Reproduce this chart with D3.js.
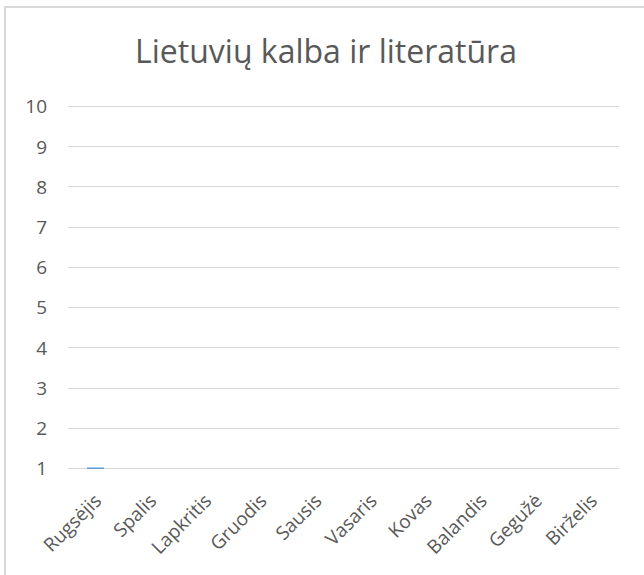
<!DOCTYPE html>
<html>
<head>
<meta charset="utf-8">
<script src="https://cdn.jsdelivr.net/npm/d3@7"></script>
<style>
  body { margin: 0; background: #fff; }
</style>
</head>
<body>
<div id="chart"></div>
<script>
// data
var months = ['Rugsėjis','Spalis','Lapkritis','Gruodis','Sausis','Vasaris','Kovas','Balandis','Gegužė','Birželis'];
var grades = [1, null, null, null, null, null, null, null, null, null];
var yTicks = [1,2,3,4,5,6,7,8,9,10];

var width = 644, height = 575;
var plotLeft = 68, plotRight = 619, plotTop = 106, plotBottom = 468;
var font = '"Open Sans", "Noto Sans", sans-serif';

var svg = d3.select('#chart').append('svg')
    .attr('width', width)
    .attr('height', height);

// outer chart border (right and bottom edges fall outside the picture)
svg.append('rect')
    .attr('x', 5).attr('y', 7)
    .attr('width', 700).attr('height', 700)
    .attr('fill', '#fff')
    .attr('stroke', '#d9d9d9')
    .attr('stroke-width', 2);

svg.append('text')
    .attr('x', 326).attr('y', 63)
    .attr('text-anchor', 'middle')
    .attr('font-family', font)
    .attr('font-size', 32)
    .attr('fill', '#595959')
    .text('Lietuvių kalba ir literatūra');

var x = d3.scaleBand().domain(months).range([plotLeft, plotRight]);
var y = d3.scaleLinear().domain([1, 10]).range([plotBottom, plotTop]);

// gridlines
svg.append('g')
    .selectAll('line')
    .data(yTicks)
    .enter().append('line')
    .attr('x1', plotLeft).attr('x2', plotRight)
    .attr('y1', function(d) { return Math.round(y(d)) + 0.5; })
    .attr('y2', function(d) { return Math.round(y(d)) + 0.5; })
    .attr('stroke', '#d9d9d9');

// y axis labels
var yAxis = svg.append('g')
    .attr('transform', 'translate(47,0)')
    .call(d3.axisLeft(y).tickValues(yTicks).tickSize(0).tickPadding(0));
yAxis.select('.domain').remove();
yAxis.attr('font-family', font).attr('font-size', 19);
yAxis.selectAll('text').attr('fill', '#595959').attr('dy', '0.36em');

// bars (value 1 sits on the axis minimum, so it shows as a flat line)
var barW = 17;
svg.selectAll('.bar')
    .data(grades.map(function(v, i) { return {m: months[i], v: v}; }).filter(function(d) { return d.v != null; }))
    .enter().append('rect')
    .attr('class', 'bar')
    .attr('x', function(d) { return x(d.m) + x.bandwidth() / 2 - barW / 2; })
    .attr('y', function(d) { return y(d.v) - 0.5; })
    .attr('width', barW)
    .attr('height', function(d) { return Math.max(1.5, y(1) - y(d.v)); })
    .attr('fill', '#5b9bd5');

// x axis labels, rotated 45 degrees
var xAxis = svg.append('g')
    .attr('transform', 'translate(0,' + plotBottom + ')')
    .call(d3.axisBottom(x).tickSize(0).tickPadding(0));
xAxis.select('.domain').remove();
xAxis.attr('font-family', font).attr('font-size', 19);
xAxis.selectAll('text')
    .attr('fill', '#595959')
    .attr('text-anchor', 'end')
    .attr('y', 0)
    .attr('dy', 0)
    .attr('transform', 'translate(7,34) rotate(-45)');
</script>
</body>
</html>
